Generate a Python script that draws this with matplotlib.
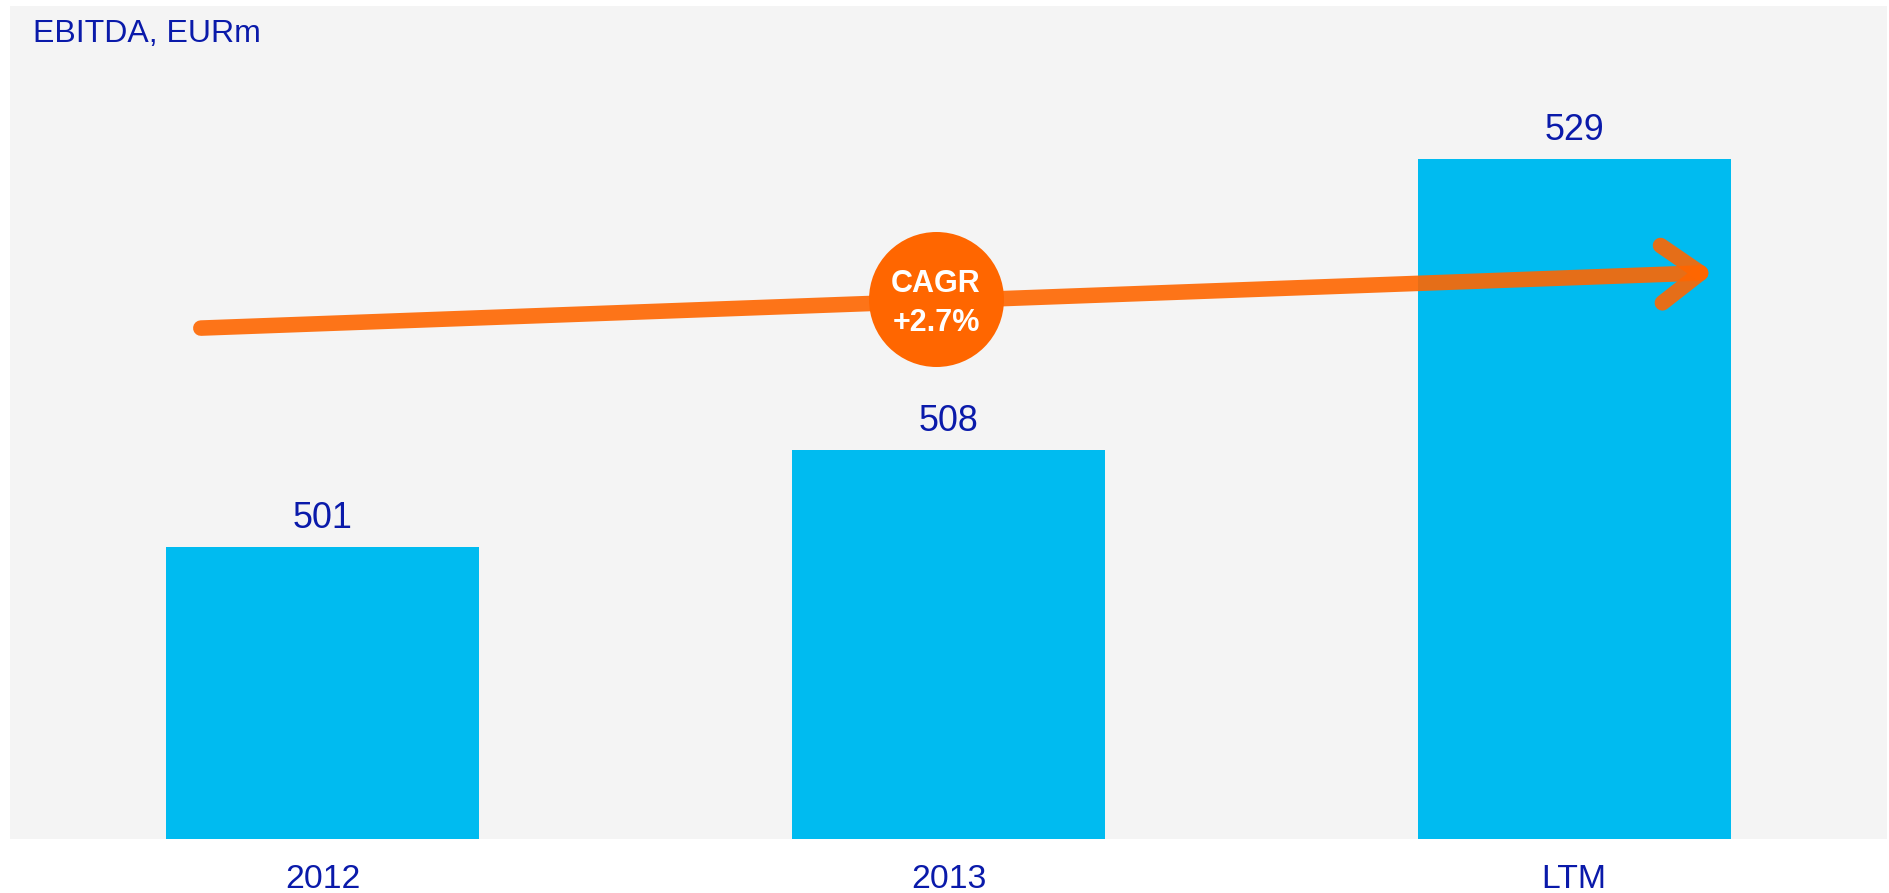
import matplotlib
matplotlib.use("Agg")
import matplotlib.pyplot as plt

plt.rcParams['font.family'] = ['Liberation Sans', 'DejaVu Sans']

categories = ["2012", "2013", "LTM"]
values = [501, 508, 529]
title = "EBITDA, EURm"
cagr_lines = ["CAGR", "+2.7%"]

BAR = '#00BBF0'
TXT = '#0A1AAA'
ORANGE = '#FF6600'
BG = '#F4F4F4'

W, H = 1889, 893
fig = plt.figure(figsize=(W / 100, H / 100), dpi=100)
ax = fig.add_axes([10 / W, (H - 839) / H, (1887 - 10) / W, (839 - 6) / H])
ax.set_facecolor(BG)
ax.set_xlim(-0.5, 2.5)
ax.set_ylim(480, 540)

x = list(range(len(categories)))
ax.bar(x, values, width=0.5, color=BAR, zorder=2)

for xi, v in zip(x, values):
    ax.annotate(str(v), (xi, v), xytext=(0, 13.7), textcoords='offset points',
                ha='center', va='baseline', fontsize=25.8, color=TXT, zorder=5)

ax.set_xticks(x)
ax.set_xticklabels(categories, fontsize=24.3, color=TXT)
ax.tick_params(axis='x', length=0, pad=18)
ax.set_yticks([])
for s in ax.spines.values():
    s.set_visible(False)

# CAGR arrow (annotation)
start = (-0.195, 516.8)
tip = (2.202, 520.77)
arm_up = (2.138, 522.75)
arm_dn = (2.141, 518.62)
lw = 11.2
ax.plot([start[0], tip[0]], [start[1], tip[1]], color=ORANGE, alpha=0.9, lw=lw,
        solid_capstyle='round', zorder=3)
for arm in (arm_up, arm_dn):
    ax.plot([arm[0], tip[0]], [arm[1], tip[1]], color=ORANGE, alpha=0.9, lw=lw,
            solid_capstyle='round', zorder=3)

cx, cy = 0.980, 518.86
ax.scatter([cx], [cy], s=97.2 ** 2, color=ORANGE, zorder=4, linewidths=0)
ax.annotate(cagr_lines[0], (cx, cy), xytext=(0, 5.6), textcoords='offset points',
            ha='center', va='baseline', fontsize=22, fontweight='bold', color='white', zorder=6)
ax.annotate(cagr_lines[1], (cx, cy), xytext=(0, -22.5), textcoords='offset points',
            ha='center', va='baseline', fontsize=22, fontweight='bold', color='white', zorder=6)

fig.text(33 / W, 1 - 42 / H, title, fontsize=23, color=TXT, ha='left', va='baseline')

fig.savefig('out.png', dpi=100, facecolor='white')
